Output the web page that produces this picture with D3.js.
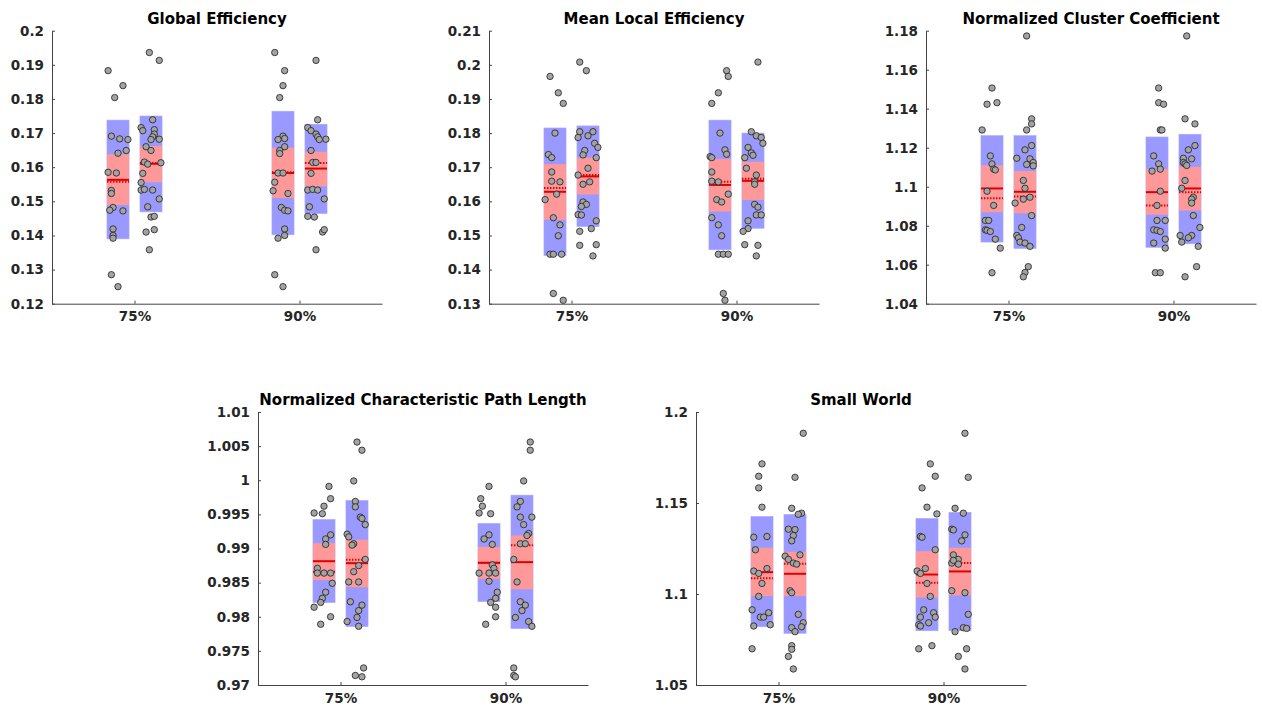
<!DOCTYPE html>
<html><head><meta charset="utf-8">
<script src="https://cdn.jsdelivr.net/npm/d3@7"></script>
<style>
html,body{margin:0;padding:0;background:#fff;}
svg{display:block;font-family:"DejaVu Sans",sans-serif;}
</style></head>
<body><svg id="chart" width="1262" height="707"></svg>
<script>
// ---------- DATA ----------
const panelTitles = ["Global Efficiency","Mean Local Efficiency","Normalized Cluster Coefficient","Normalized Characteristic Path Length","Small World"];
const groupLabels = ["75%","90%"];
const groupPositions = [1, 2];
const boxCenters = [0.9, 1.1, 1.9, 2.1];

const yDomains = [[0.12,0.2],[0.13,0.21],[1.04,1.18],[0.97,1.01],[1.05,1.2]];
const yTickValues = [
  [0.12,0.13,0.14,0.15,0.16,0.17,0.18,0.19,0.2],
  [0.13,0.14,0.15,0.16,0.17,0.18,0.19,0.2,0.21],
  [1.04,1.06,1.08,1.1,1.12,1.14,1.16,1.18],
  [0.97,0.975,0.98,0.985,0.99,0.995,1,1.005,1.01],
  [1.05,1.1,1.15,1.2]
];
const yTickLabels = [
  ["0.12","0.13","0.14","0.15","0.16","0.17","0.18","0.19","0.2"],
  ["0.13","0.14","0.15","0.16","0.17","0.18","0.19","0.2","0.21"],
  ["1.04","1.06","1.08","1.1","1.12","1.14","1.16","1.18"],
  ["0.97","0.975","0.98","0.985","0.99","0.995","1","1.005","1.01"],
  ["1.05","1.1","1.15","1.2"]
];

// box stats per box: [sdLow, sdHigh, ciLow, ciHigh, mean, median]
const geStats = [[0.1390,0.1738,0.1489,0.1638,0.1563,0.1557],[0.1469,0.1750,0.1556,0.1662,0.1610,0.1612],[0.1402,0.1764,0.1510,0.1657,0.1583,0.1585],[0.1464,0.1726,0.1544,0.1645,0.1596,0.1612]];
const mleStats = [[0.1441,0.1815,0.1546,0.1709,0.1628,0.1639],[0.1526,0.1821,0.1620,0.1728,0.1673,0.1677],[0.1458,0.1838,0.1570,0.1724,0.1648,0.1657],[0.1521,0.1800,0.1604,0.1716,0.1660,0.1666]];
const nccStats = [[1.0716,1.1262,1.0869,1.1109,1.0991,1.0941],[1.0683,1.1262,1.0864,1.1080,1.0974,1.0950],[1.0689,1.1255,1.0856,1.1090,1.0972,1.0904],[1.0707,1.1269,1.0878,1.1102,1.0991,1.0972]];
const ncplStats = [[0.98208,0.99425,0.98540,0.99078,0.98814,0.98660],[0.97856,0.99704,0.98433,0.99127,0.98785,0.98834],[0.98222,0.99367,0.98555,0.99024,0.98790,0.98790],[0.97826,0.99782,0.98403,0.99191,0.98800,0.99049]];
const swStats = [[1.0820,1.1426,1.0988,1.1254,1.1120,1.1087],[1.0784,1.1437,1.0988,1.1232,1.1111,1.1166],[1.0798,1.1415,1.0981,1.1235,1.1107,1.1062],[1.0798,1.1449,1.0992,1.1254,1.1124,1.1171]];

// points: [x (jittered group coordinate), value]
const ge75a = [[0.84,0.1883],[0.93,0.1839],[0.88,0.1804],[0.86,0.1691],[0.91,0.1683],[0.96,0.1681],[0.95,0.1649],[0.90,0.1641],[0.84,0.1585],[0.89,0.1583],[0.86,0.1532],[0.86,0.1523],[0.87,0.1482],[0.85,0.1474],[0.93,0.1472],[0.87,0.1419],[0.87,0.1400],[0.87,0.1392],[0.86,0.1285],[0.90,0.1250]];
const ge75b = [[1.09,0.1936],[1.15,0.1913],[1.04,0.1716],[1.05,0.1707],[1.11,0.1739],[1.12,0.1710],[1.12,0.1697],[1.11,0.1689],[1.10,0.1681],[1.15,0.1682],[1.07,0.1660],[1.10,0.1649],[1.06,0.1615],[1.08,0.1609],[1.16,0.1613],[1.05,0.1582],[1.04,0.1555],[1.04,0.1533],[1.06,0.1535],[1.11,0.1533],[1.15,0.1507],[1.08,0.1484],[1.10,0.1454],[1.12,0.1456],[1.07,0.1410],[1.12,0.1417],[1.09,0.1358]];
const ge90a = [[1.85,0.1936],[1.91,0.1883],[1.90,0.1839],[1.88,0.1804],[1.90,0.1691],[1.87,0.1681],[1.91,0.1684],[1.91,0.1660],[1.88,0.1649],[1.88,0.1640],[1.87,0.1583],[1.90,0.1583],[1.85,0.1556],[1.84,0.1531],[1.93,0.1523],[1.89,0.1482],[1.91,0.1474],[1.93,0.1472],[1.91,0.1419],[1.91,0.1400],[1.87,0.1392],[1.85,0.1285],[1.90,0.1250]];
const ge90b = [[2.10,0.1913],[2.11,0.1739],[2.05,0.1716],[2.07,0.1707],[2.10,0.1697],[2.11,0.1689],[2.12,0.1681],[2.16,0.1682],[2.07,0.1649],[2.08,0.1614],[2.10,0.1614],[2.07,0.1582],[2.05,0.1533],[2.08,0.1535],[2.11,0.1533],[2.15,0.1507],[2.06,0.1484],[2.05,0.1456],[2.09,0.1454],[2.14,0.1410],[2.15,0.1417],[2.10,0.1358]];

const mle75a = [[0.87,0.1966],[0.92,0.1918],[0.95,0.1887],[0.90,0.1800],[0.86,0.1737],[0.88,0.1728],[0.88,0.1686],[0.88,0.1659],[0.93,0.1657],[0.91,0.1621],[0.84,0.1605],[0.89,0.1552],[0.93,0.1531],[0.92,0.1499],[0.87,0.1445],[0.89,0.1445],[0.94,0.1445],[0.89,0.1330],[0.95,0.1310]];
const mle75b = [[1.05,0.2008],[1.09,0.1983],[1.05,0.1804],[1.04,0.1787],[1.13,0.1804],[1.10,0.1792],[1.14,0.1770],[1.16,0.1758],[1.08,0.1749],[1.07,0.1736],[1.15,0.1728],[1.10,0.1697],[1.04,0.1677],[1.07,0.1650],[1.11,0.1657],[1.07,0.1598],[1.09,0.1591],[1.06,0.1585],[1.04,0.1561],[1.06,0.1560],[1.15,0.1543],[1.12,0.1520],[1.05,0.1512],[1.05,0.1471],[1.15,0.1473],[1.13,0.1440]];
const mle90a = [[1.94,0.1983],[1.95,0.1966],[1.89,0.1918],[1.85,0.1887],[1.90,0.1800],[1.93,0.1751],[1.94,0.1738],[1.84,0.1731],[1.85,0.1728],[1.85,0.1686],[1.85,0.1659],[1.89,0.1657],[1.95,0.1621],[1.88,0.1605],[1.91,0.1598],[1.85,0.1552],[1.89,0.1531],[1.91,0.1499],[1.89,0.1445],[1.92,0.1445],[1.95,0.1445],[1.92,0.1330],[1.93,0.1310]];
const mle90b = [[2.13,0.2008],[2.09,0.1804],[2.12,0.1792],[2.15,0.1787],[2.16,0.1770],[2.07,0.1758],[2.09,0.1742],[2.10,0.1735],[2.05,0.1728],[2.06,0.1697],[2.12,0.1677],[2.11,0.1657],[2.11,0.1650],[2.11,0.1591],[2.13,0.1583],[2.12,0.1560],[2.15,0.1560],[2.07,0.1543],[2.07,0.1520],[2.04,0.1512],[2.05,0.1473],[2.13,0.1471],[2.12,0.1440]];

const ncc75a = [[0.90,1.1506],[0.87,1.1423],[0.93,1.1431],[0.84,1.1291],[0.89,1.1158],[0.90,1.1117],[0.91,1.1090],[0.92,1.1086],[0.87,1.0977],[0.91,1.0904],[0.86,1.0827],[0.88,1.0827],[0.86,1.0779],[0.87,1.0776],[0.89,1.0770],[0.92,1.0731],[0.95,1.0685],[0.90,1.0559]];
const ncc75b = [[1.11,1.1773],[1.14,1.1348],[1.14,1.1322],[1.11,1.1291],[1.14,1.1211],[1.10,1.1189],[1.05,1.1146],[1.13,1.1143],[1.15,1.1124],[1.11,1.1114],[1.15,1.1107],[1.09,1.1032],[1.10,1.0992],[1.04,1.0916],[1.09,1.0936],[1.13,1.0946],[1.14,1.0852],[1.08,1.0791],[1.05,1.0750],[1.06,1.0738],[1.07,1.0716],[1.10,1.0711],[1.13,1.0694],[1.12,1.0590],[1.10,1.0560],[1.09,1.0538]];
const ncc90a = [[1.91,1.1506],[1.91,1.1431],[1.94,1.1423],[1.92,1.1291],[1.93,1.1291],[1.88,1.1158],[1.91,1.1117],[1.92,1.1090],[1.87,1.1080],[1.92,1.0977],[1.90,1.0904],[1.90,1.0827],[1.95,1.0827],[1.88,1.0779],[1.90,1.0776],[1.92,1.0770],[1.95,1.0731],[1.88,1.0711],[1.95,1.0685],[1.89,1.0559],[1.92,1.0559]];
const ncc90b = [[2.08,1.1773],[2.07,1.1348],[2.13,1.1322],[2.13,1.1211],[2.09,1.1189],[2.06,1.1146],[2.11,1.1143],[2.06,1.1124],[2.07,1.1117],[2.08,1.1109],[2.07,1.1032],[2.05,1.0992],[2.12,1.0946],[2.11,1.0936],[2.11,1.0916],[2.12,1.0852],[2.16,1.0791],[2.04,1.0750],[2.11,1.0750],[2.09,1.0738],[2.05,1.0716],[2.15,1.0694],[2.14,1.0590],[2.07,1.0538]];

const ncpl75a = [[0.93,0.9991],[0.94,0.9973],[0.90,0.9962],[0.84,0.9952],[0.89,0.9951],[0.94,0.9920],[0.91,0.9914],[0.91,0.9906],[0.86,0.9871],[0.86,0.9864],[0.90,0.9864],[0.94,0.9864],[0.95,0.9849],[0.91,0.9836],[0.89,0.9827],[0.88,0.9821],[0.84,0.9814],[0.94,0.9800],[0.88,0.9789]];
const ncpl75b = [[1.10,1.0056],[1.13,1.0044],[1.08,0.9999],[1.09,0.9969],[1.09,0.9961],[1.12,0.9946],[1.13,0.9944],[1.15,0.9935],[1.04,0.9921],[1.05,0.9917],[1.08,0.9907],[1.07,0.9905],[1.15,0.9884],[1.11,0.9875],[1.08,0.9866],[1.05,0.9851],[1.11,0.9851],[1.06,0.9822],[1.13,0.9817],[1.11,0.9809],[1.10,0.9799],[1.04,0.9793],[1.11,0.9786],[1.14,0.9725],[1.09,0.9714],[1.13,0.9712]];
const ncpl90a = [[1.90,0.9991],[1.85,0.9973],[1.86,0.9962],[1.84,0.9952],[1.91,0.9951],[1.90,0.9920],[1.87,0.9914],[1.92,0.9906],[1.92,0.9876],[1.93,0.9871],[1.84,0.9864],[1.90,0.9864],[1.94,0.9864],[1.90,0.9852],[1.95,0.9836],[1.94,0.9827],[1.91,0.9821],[1.94,0.9814],[1.94,0.9800],[1.88,0.9789]];
const ncpl90b = [[2.15,1.0056],[2.15,1.0044],[2.11,0.9999],[2.09,0.9969],[2.07,0.9961],[2.09,0.9946],[2.16,0.9946],[2.11,0.9935],[2.14,0.9922],[2.13,0.9919],[2.09,0.9907],[2.12,0.9907],[2.05,0.9884],[2.07,0.9851],[2.09,0.9822],[2.12,0.9817],[2.10,0.9809],[2.06,0.9799],[2.14,0.9793],[2.16,0.9786],[2.05,0.9725],[2.05,0.9714],[2.06,0.9712]];

const sw75a = [[0.90,1.1715],[0.88,1.1647],[0.88,1.1583],[0.90,1.1477],[0.85,1.1312],[0.93,1.1316],[0.86,1.1243],[0.85,1.1126],[0.88,1.1113],[0.93,1.1140],[0.90,1.1058],[0.88,1.0987],[0.84,1.0913],[0.94,1.0897],[0.89,1.0873],[0.91,1.0873],[0.85,1.0824],[0.95,1.0831],[0.84,1.0699]];
const sw75b = [[1.15,1.1883],[1.10,1.1641],[1.08,1.1471],[1.14,1.1444],[1.12,1.1438],[1.06,1.1356],[1.10,1.1354],[1.09,1.1321],[1.08,1.1292],[1.13,1.1215],[1.04,1.1208],[1.06,1.1190],[1.09,1.1170],[1.11,1.1164],[1.07,1.1018],[1.08,1.1007],[1.12,1.0888],[1.15,1.0842],[1.14,1.0820],[1.08,1.0815],[1.10,1.0793],[1.08,1.0716],[1.08,1.0696],[1.06,1.0657],[1.09,1.0588]];
const sw90a = [[1.92,1.1715],[1.95,1.1647],[1.87,1.1583],[1.90,1.1477],[1.96,1.1440],[1.86,1.1316],[1.87,1.1312],[1.95,1.1243],[1.84,1.1126],[1.86,1.1113],[1.89,1.1140],[1.90,1.1058],[1.92,1.0987],[1.88,1.0913],[1.94,1.0897],[1.86,1.0873],[1.95,1.0873],[1.85,1.0831],[1.86,1.0824],[1.91,1.0842],[1.85,1.0699],[1.93,1.0716]];
const sw90b = [[2.13,1.1883],[2.15,1.1641],[2.07,1.1471],[2.12,1.1444],[2.05,1.1356],[2.06,1.1352],[2.13,1.1325],[2.11,1.1292],[2.06,1.1215],[2.09,1.1190],[2.05,1.1170],[2.09,1.1164],[2.06,1.1185],[2.13,1.1007],[2.05,1.1018],[2.15,1.0888],[2.12,1.0815],[2.14,1.0811],[2.07,1.0793],[2.14,1.0699],[2.09,1.0657],[2.13,1.0588]];

// ---------- ASSEMBLY ----------
const panelStats = [geStats, mleStats, nccStats, ncplStats, swStats];
const panelPoints = [
  [ge75a, ge75b, ge90a, ge90b],
  [mle75a, mle75b, mle90a, mle90b],
  [ncc75a, ncc75b, ncc90a, ncc90b],
  [ncpl75a, ncpl75b, ncpl90a, ncpl90b],
  [sw75a, sw75b, sw90a, sw90b]
];

// layout (pixels)
const frames = [
  {l:52,  t:30.7, w:330, h:273},
  {l:489, t:30.7, w:330, h:273},
  {l:926, t:30.7, w:330, h:273},
  {l:258, t:412,  w:330, h:273},
  {l:696, t:412,  w:330, h:273}
];
const boxHalf = 0.067;
const ink = "#262626";

const svg = d3.select("#chart");

frames.forEach((f, i) => {
  const g = svg.append("g");
  const x = d3.scaleLinear().domain([0.5, 2.5]).range([f.l, f.l + f.w]);
  const y = d3.scaleLinear().domain(yDomains[i]).range([f.t + f.h, f.t]);

  // boxes
  panelStats[i].forEach((s, k) => {
    const c = boxCenters[k];
    const x0 = x(c - boxHalf), x1 = x(c + boxHalf);
    g.append("rect").attr("x", x0).attr("width", x1 - x0)
      .attr("y", y(s[1])).attr("height", y(s[0]) - y(s[1]))
      .attr("fill", "rgb(153,153,255)").attr("stroke", "rgb(170,170,255)").attr("stroke-width", 0.6);
    g.append("rect").attr("x", x0).attr("width", x1 - x0)
      .attr("y", y(s[3])).attr("height", y(s[2]) - y(s[3]))
      .attr("fill", "rgb(255,153,153)");
    g.append("line").attr("x1", x0).attr("x2", x1).attr("y1", y(s[5])).attr("y2", y(s[5]))
      .attr("stroke", "#e00000").attr("stroke-width", 2).attr("stroke-dasharray", "1.5,1.5");
    g.append("line").attr("x1", x0).attr("x2", x1).attr("y1", y(s[4])).attr("y2", y(s[4]))
      .attr("stroke", "#e00000").attr("stroke-width", 2);
  });

  // points
  panelPoints[i].forEach(pts => {
    g.selectAll(null).data(pts).join("circle")
      .attr("cx", d => x(d[0])).attr("cy", d => y(d[1])).attr("r", 3.2)
      .attr("fill", "#a3a3a3").attr("stroke", "#1e1e1e").attr("stroke-width", 0.8);
  });

  // axes
  const yAxis = d3.axisLeft(y).tickValues(yTickValues[i])
    .tickFormat((d, j) => yTickLabels[i][j]).tickSizeInner(-3).tickSizeOuter(0).tickPadding(8);
  const ya = g.append("g").attr("transform", `translate(${f.l},0)`).call(yAxis);
  const xAxis = d3.axisBottom(x).tickValues(groupPositions)
    .tickFormat((d, j) => groupLabels[j]).tickSizeInner(-3).tickSizeOuter(0).tickPadding(8);
  const xa = g.append("g").attr("transform", `translate(0,${f.t + f.h})`).call(xAxis);
  [ya, xa].forEach(a => {
    a.select(".domain").attr("stroke", "#444").attr("stroke-width", 1);
    a.selectAll(".tick line").attr("stroke", "#444");
    a.selectAll("text").attr("fill", ink).style("font-size", "13.5px").style("font-weight", "bold")
      .style("font-family", "'DejaVu Sans', sans-serif");
  });

  // title
  g.append("text").attr("x", f.l + f.w / 2).attr("y", f.t - 7)
    .attr("text-anchor", "middle").attr("fill", "#000")
    .style("font-size", "15px").style("font-weight", "bold").text(panelTitles[i]);
});
</script></body></html>
